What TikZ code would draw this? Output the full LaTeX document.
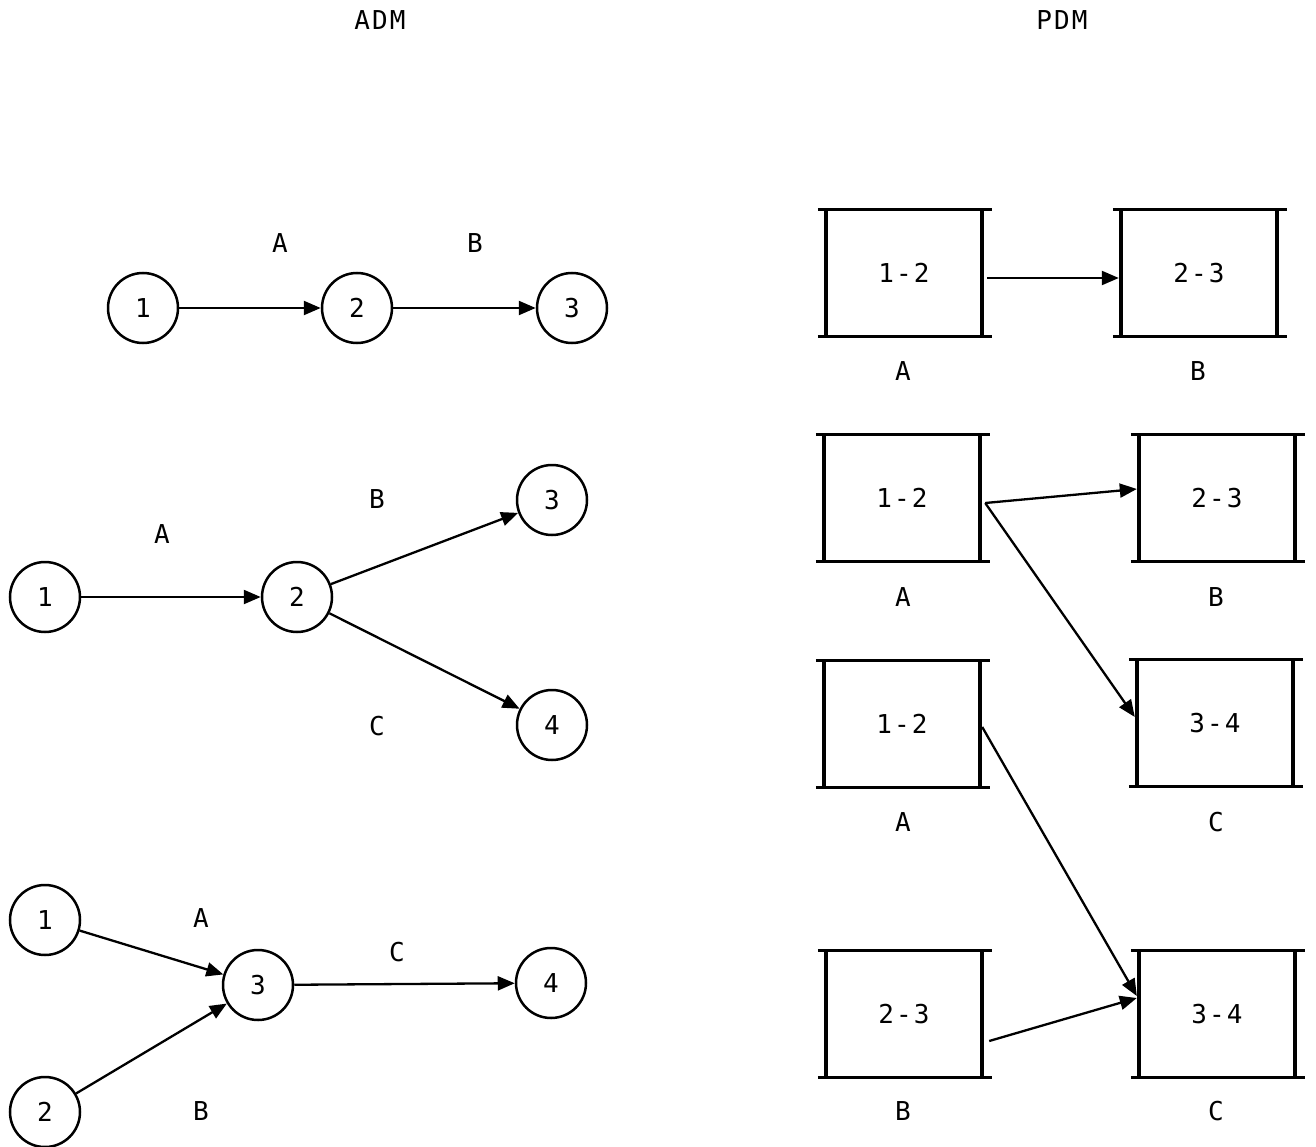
\documentclass[tikz,border=0pt]{standalone}
\usepackage{fontspec}
\setmonofont[LetterSpace=8]{DejaVu Sans Mono}
\usetikzlibrary{arrows.meta}

\begin{document}
\begin{tikzpicture}[x=1pt,y=-1pt,
	font=\ttfamily\fontsize{26}{30}\selectfont,
	evt/.style={shape=circle,draw=black,line width=2.5pt,minimum size=70pt,inner sep=0pt},
	act/.style={minimum width=156pt,minimum height=127pt,inner sep=0pt},
	arr/.style={-{Triangle[length=17pt,width=14pt]},line width=2.3pt}]
	
	\useasboundingbox (0,0) rectangle (1316,1147);
	
	\node (adm) at (380,20)  {ADM};
	\node (pdm) at (1062,20) {PDM};
	
	% ADM
	\node[evt] (t1) at (143,308) {1};
	\node[evt] (t2) at (357,308) {2};
	\node[evt] (t3) at (572,308) {3};
	\node (ta) at (280,243) {A};
	\node (tb) at (475,243) {B};
	\path[arr] (t1) edge (t2);
	\path[arr] (t2) edge (t3);
	
	\node[evt] (m1) at (45,597)  {1};
	\node[evt] (m2) at (297,597) {2};
	\node[evt] (m3) at (552,500) {3};
	\node[evt] (m4) at (552,725) {4};
	\node (ma) at (162,534) {A};
	\node (mb) at (377,499) {B};
	\node (mc) at (377,726) {C};
	\path[arr] (m1) edge (m2);
	\path[arr] (m2) edge (m3);
	\path[arr] (m2) edge (m4);
	
	\node[evt] (b1) at (45,920)  {1};
	\node[evt] (b2) at (45,1112) {2};
	\node[evt] (b3) at (258,985) {3};
	\node[evt] (b4) at (551,983) {4};
	\node (ba) at (201,918)  {A};
	\node (bb) at (201,1111) {B};
	\node (bc) at (397,952)  {C};
	\path[arr] (b1) edge (b3);
	\path[arr] (b2) edge (b3);
	\path[arr] (b3) edge (b4);
	
	% PDM
	\node[act] (p1a) at (904,273)  {1-2};
	\node[act] (p1b) at (1199,273) {2-3};
	\node[act] (p2a) at (902,498)  {1-2};
	\node[act] (p2b) at (1217,498) {2-3};
	\node[act] (p3a) at (902,724)  {1-2};
	\node[act] (p3b) at (1215,723) {3-4};
	\node[act] (p4a) at (904,1014) {2-3};
	\node[act] (p4b) at (1217,1014) {3-4};
	\foreach \b in {p1a,p1b,p2a,p2b,p3a,p3b,p4a,p4b} {
		\draw[line width=2.5pt] ([xshift=-8pt]\b.north west) -- ([xshift=10pt]\b.north east);
		\draw[line width=2.5pt] ([xshift=-8pt]\b.south west) -- ([xshift=10pt]\b.south east);
		\draw[line width=3.5pt] (\b.north west) -- (\b.south west);
		\draw[line width=3.5pt] (\b.north east) -- (\b.south east);
	}
	\node (la1) at (903,371)  {A};
	\node (lb1) at (1198,371) {B};
	\node (la2) at (903,597)  {A};
	\node (lb2) at (1216,597) {B};
	\node (la3) at (903,822)  {A};
	\node (lc3) at (1216,822) {C};
	\node (lb4) at (903,1111) {B};
	\node (lc4) at (1216,1111) {C};
	\path[arr] ([xshift=5pt,yshift=-5pt]p1a.east) edge ([xshift=-2pt,yshift=-5pt]p1b.west);
	\path[arr] ([xshift=5pt,yshift=-5pt]p2a.east) edge ([xshift=-2pt,yshift=9pt]p2b.west);
	\path[arr] ([xshift=5pt,yshift=-5pt]p2a.east) edge ([xshift=-2pt,yshift=6pt]p3b.west);
	\path[arr] ([xshift=2pt,yshift=-3pt]p3a.east) edge ([xshift=-2pt,yshift=18pt]p4b.west);
	\path[arr] ([xshift=7pt,yshift=-27pt]p4a.east) edge ([xshift=-2pt,yshift=16pt]p4b.west);
	
\end{tikzpicture}
\end{document}
